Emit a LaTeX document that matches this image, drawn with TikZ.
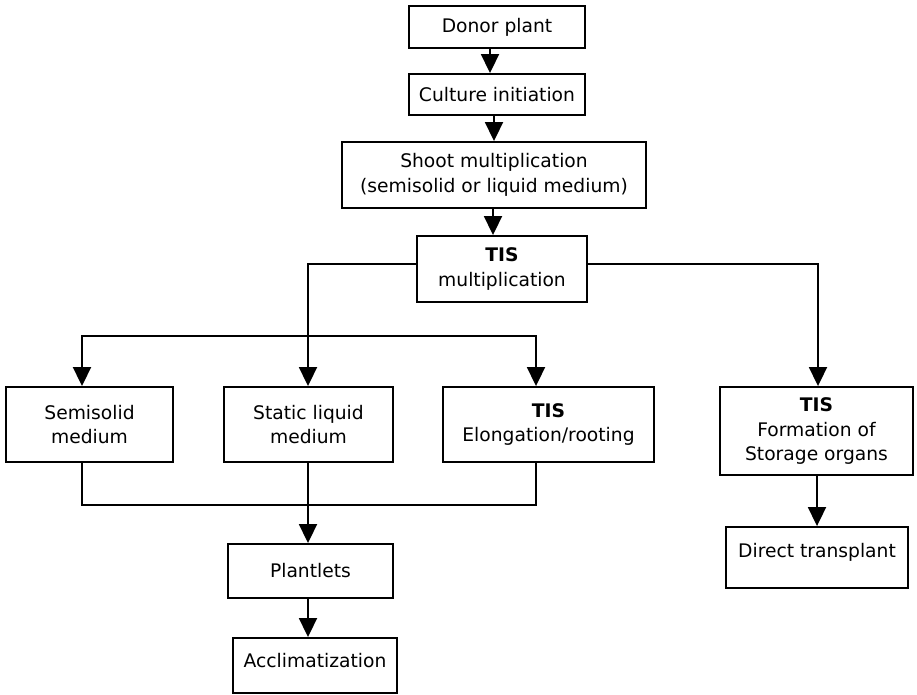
\documentclass[tikz,border=0pt]{standalone}
\usepackage{fontspec}
\setmainfont{DejaVu Sans}
\usepackage{tikz}
\usetikzlibrary{arrows.meta}

\begin{document}
\begin{tikzpicture}[x=1pt, y=-1pt,
      etapa/.style={rectangle, draw, line width=1.9pt, align=center, inner sep=2pt,
                    font=\fontsize{18.7}{24.5}\selectfont},
      flecha/.style={-{Triangle[length=19pt,width=18pt]}, line width=1.9pt},
      linea/.style={line width=1.9pt}
    ]
    \useasboundingbox (0,0) rectangle (917,694);
    % main column
    \node[etapa, minimum width=176pt, minimum height=42pt] (donor) at (497,27) {Donor plant};
    \node[etapa, minimum width=176pt, minimum height=41pt] (initiation) at (497,94.5) {Culture initiation};
    \node[etapa, minimum width=304pt, minimum height=66pt] (shoot) at (494,175) {Shoot multiplication\\(semisolid or liquid medium)};
    \node[etapa, minimum width=170pt, minimum height=66pt] (tismult) at (502,269) {\textbf{TIS}\\multiplication};
    % branches
    \node[etapa, minimum width=167pt, minimum height=75pt] (semisolid) at (89.5,424.5) {Semisolid\\medium};
    \node[etapa, minimum width=169pt, minimum height=75pt] (static) at (308.5,424.5) {Static liquid\\medium};
    \node[etapa, minimum width=211pt, minimum height=75pt] (elong) at (548.5,424.5) {\textbf{TIS}\\Elongation/rooting};
    \node[etapa, minimum width=193pt, minimum height=88pt] (storage) at (816.5,431) {\textbf{TIS}\\Formation of\\Storage organs};
    \node[etapa, minimum width=165pt, minimum height=54pt] (plantlets) at (310.5,571) {Plantlets};
    \node[etapa, minimum width=164pt, minimum height=55pt, text depth=10.7pt] (acclim) at (315,665.5) {Acclimatization};
    \node[etapa, minimum width=182pt, minimum height=61pt, text depth=14.5pt] (transplant) at (817,557.5) {Direct transplant};

    \draw[flecha] ([xshift=-7pt]donor.south) -- ([xshift=-7pt]donor.south |- initiation.north);
    \draw[flecha] ([xshift=-3pt]initiation.south) -- ([xshift=-3pt]initiation.south |- shoot.north);
    \draw[flecha] ([xshift=-1pt]shoot.south) -- ([xshift=-1pt]shoot.south |- tismult.north);

    \draw[flecha] ([yshift=5pt]tismult.west) -| ([xshift=-0.5pt]static.north);
    \draw[flecha] ([yshift=5pt]tismult.east) -| ([xshift=1.5pt]storage.north);
    \coordinate (reparto) at (308,336);
    \draw[flecha] (reparto) -| ([xshift=-7.5pt]semisolid.north);
    \draw[flecha] (reparto) -| ([xshift=-12.5pt]elong.north);

    % joining the three media
    \coordinate (junta) at (308,505);
    \draw[linea] ([xshift=-7.5pt]semisolid.south) |- (junta) -| ([xshift=-12.5pt]elong.south);
    \draw[flecha] ([xshift=-0.5pt]static.south) -- ([xshift=-0.5pt]static.south |- plantlets.north);
    \draw[flecha] ([xshift=-2.5pt]plantlets.south) -- ([xshift=-2.5pt]plantlets.south |- acclim.north);
    \draw[flecha] ([xshift=0.5pt]storage.south) -- ([xshift=0.5pt]storage.south |- transplant.north);
  \end{tikzpicture}
\end{document}
